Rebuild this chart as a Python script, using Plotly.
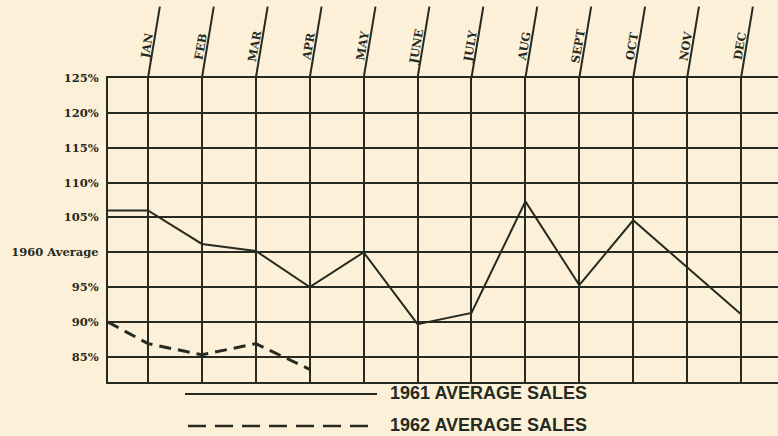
import plotly.graph_objects as go

# ---- data ----
months = ["JAN", "FEB", "MAR", "APR", "MAY", "JUNE", "JULY", "AUG", "SEPT", "OCT", "NOV", "DEC"]
sales_1961_start = 106.0
sales_1961 = [106.0, 101.2, 100.2, 95.0, 100.0, 89.7, 91.3, 107.3, 95.3, 104.6, 97.9, 91.1]
sales_1962_start = 90.0
sales_1962 = [86.9, 85.3, 86.9, 83.2]
y_ticks = [85, 90, 95, 100, 105, 110, 115, 120, 125]
y_tick_text = ["85%", "90%", "95%", "1960 Average", "105%", "110%", "115%", "120%", "125%"]
legend_labels = ["1961 AVERAGE SALES", "1962 AVERAGE SALES"]

# ---- style ----
BG = "#FCF1D8"
INK = "#262A20"
X_MIN, X_MAX = -0.742, 11.686
Y_MIN, Y_MAX = 81.4, 125

xs = list(range(len(months)))

fig = go.Figure()
fig.add_trace(go.Scatter(
    x=[X_MIN] + xs, y=[sales_1961_start] + sales_1961,
    mode="lines", line=dict(color=INK, width=2), showlegend=False, hoverinfo="skip"))
fig.add_trace(go.Scatter(
    x=[X_MIN] + xs[:len(sales_1962)], y=[sales_1962_start] + sales_1962,
    mode="lines", line=dict(color=INK, width=3, dash="12px,7px"), showlegend=False, hoverinfo="skip"))

# slanted month tick lines + labels above the grid
shapes = []
annotations = []
for i, m in enumerate(months):
    shapes.append(dict(type="line", xref="x", yref="paper", x0=i, y0=1.0, x1=i + 0.22, y1=1.235,
                       line=dict(color=INK, width=2)))
    annotations.append(dict(x=i - 0.02, y=1.105, xref="x", yref="paper", text=m, showarrow=False,
                            textangle=-80, xanchor="center", yanchor="middle",
                            font=dict(family="DejaVu Serif", size=11.5, color=INK, weight="bold")))

# legend samples
shapes.append(dict(type="line", xref="paper", yref="paper", x0=(185 - 108) / 670, x1=(377 - 108) / 670,
                   y0=-12 / 304, y1=-12 / 304, line=dict(color=INK, width=2)))
shapes.append(dict(type="line", xref="paper", yref="paper", x0=(188 - 108) / 670, x1=(377 - 108) / 670,
                   y0=-44 / 304, y1=-44 / 304, line=dict(color=INK, width=2.5, dash="18px,9px")))
for k, lab in enumerate(legend_labels):
    annotations.append(dict(x=(388 - 108) / 670, y=(-11 - 32 * k) / 304, xref="paper", yref="paper",
                            text=lab, showarrow=False, xanchor="left", yanchor="middle",
                            font=dict(family="Liberation Sans", size=18, color=INK, weight="bold")))

fig.update_layout(
    width=778, height=436,
    margin=dict(l=108, r=0, t=78, b=54),
    paper_bgcolor=BG, plot_bgcolor=BG,
    shapes=shapes, annotations=annotations,
    xaxis=dict(range=[X_MIN, X_MAX], tickvals=xs, showticklabels=False, ticks="",
               showgrid=True, gridcolor=INK, gridwidth=2, zeroline=False,
               showline=True, linecolor=INK, linewidth=2, mirror=True),
    yaxis=dict(range=[Y_MIN, Y_MAX], tickvals=y_ticks, ticktext=y_tick_text, ticks="",
               ticklabelstandoff=5,
               tickfont=dict(family="DejaVu Serif", size=11.5, color=INK, weight="bold"),
               showgrid=True, gridcolor=INK, gridwidth=2, zeroline=False,
               showline=True, linecolor=INK, linewidth=2),
)

fig.write_html(
    "out.html",
    config={"displayModeBar": False},
    post_script="document.body.style.margin='0';document.body.style.overflow='hidden';"
                "document.body.style.background='" + BG + "';",
)
